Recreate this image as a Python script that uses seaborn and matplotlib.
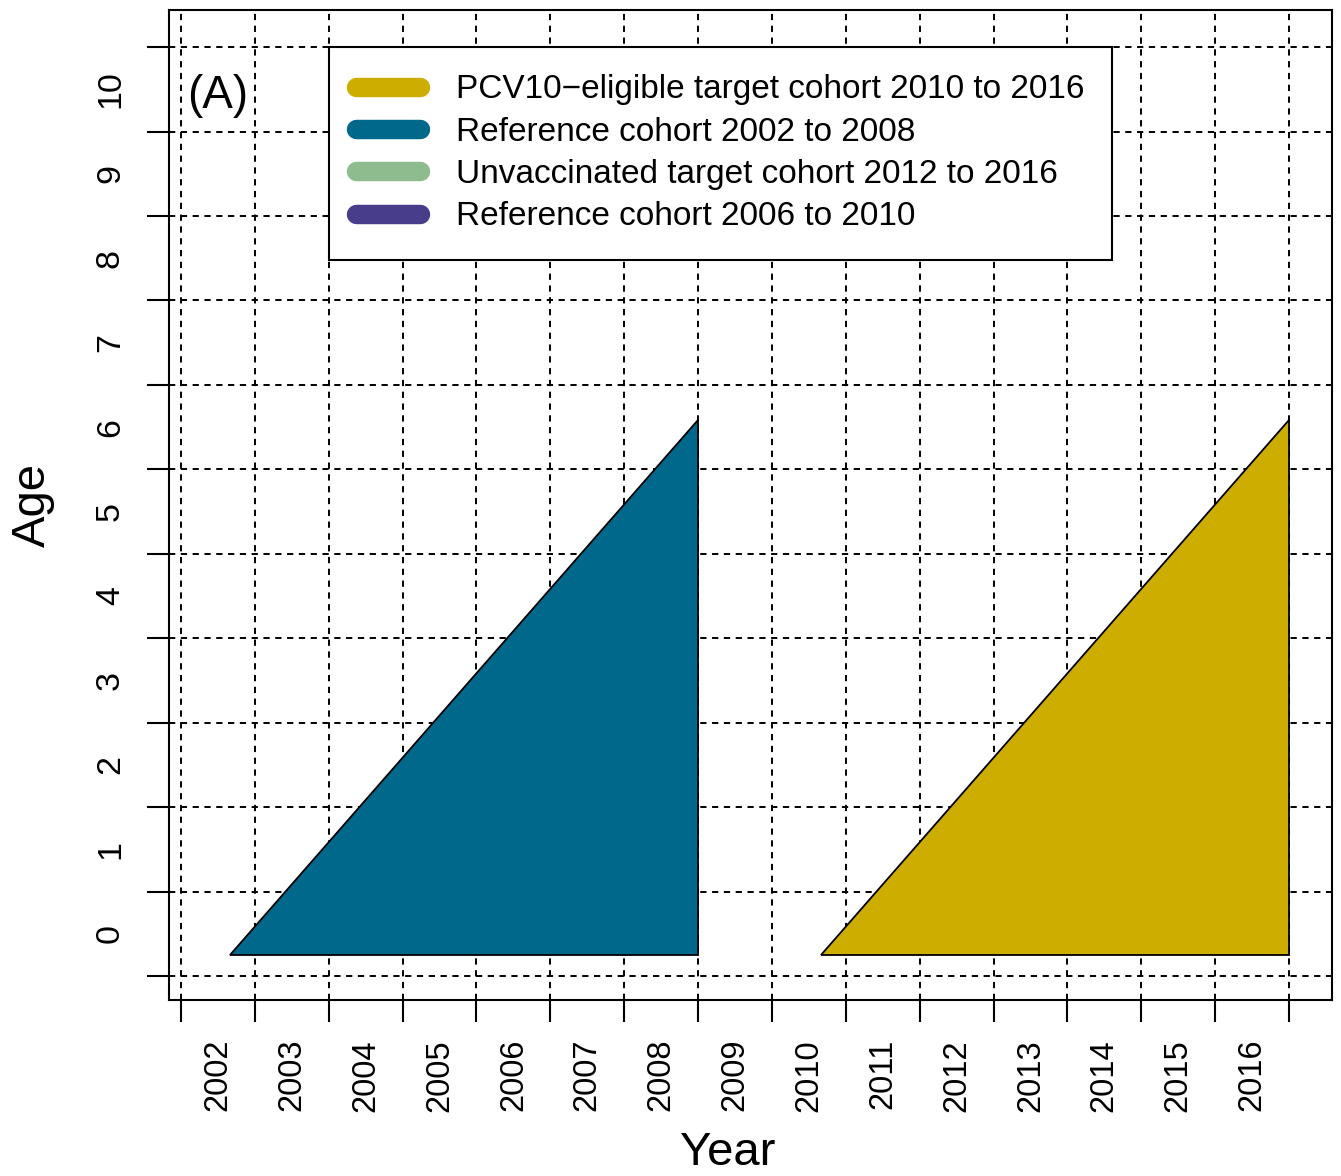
import matplotlib
matplotlib.use("Agg")
import matplotlib.pyplot as plt
import seaborn as sns
import numpy as np
import pandas as pd
from matplotlib.lines import Line2D

# ---- data ----
years = list(range(2002, 2017))
year_labels = [str(y) for y in years]
ages = list(range(0, 11))
age_labels = [str(a) for a in ages]

ref_x = [2002.67, 2009.0, 2009.0]
ref_y = [0.25, 0.25, 6.58]
pcv_x = [2010.67, 2017.0, 2017.0]
pcv_y = [0.25, 0.25, 6.58]

legend_labels = [
    "PCV10\u2212eligible target cohort 2010 to 2016",
    "Reference cohort 2002 to 2008",
    "Unvaccinated target cohort 2012 to 2016",
    "Reference cohort 2006 to 2010",
]
legend_colors = ["#CDAD00", "#00688B", "#8FBC8F", "#483D8B"]

sns.set_style("white")
plt.rcParams["font.family"] = ["Liberation Sans", "DejaVu Sans"]
plt.rcParams["lines.scale_dashes"] = False
plt.rcParams["text.color"] = "black"
plt.rcParams["axes.labelcolor"] = "black"
plt.rcParams["xtick.color"] = "black"
plt.rcParams["ytick.color"] = "black"

fig = plt.figure(figsize=(13.41, 11.76), dpi=100)
ax = fig.add_axes([169/1341, 176/1176, 1163/1341, 990/1176])

ax.set_xlim(2001.838, 2017.582)
ax.set_ylim(-0.284, 11.439)

# grid
dash = (0, (4.5, 4.0))
for x in range(2002, 2018):
    ax.axvline(x, color="black", lw=1.4, ls=dash, zorder=1)
for y in range(0, 12):
    ax.axhline(y, color="black", lw=1.4, ls=dash, zorder=1)

ax.fill(ref_x, ref_y, facecolor=legend_colors[1], edgecolor="black", lw=1.3, zorder=3)
ax.fill(pcv_x, pcv_y, facecolor=legend_colors[0], edgecolor="black", lw=1.3, zorder=3)

# ticks: major at boundaries (unlabelled), minor at centres (labelled)
ax.set_xticks(range(2002, 2018))
ax.set_xticklabels([])
ax.set_xticks([y + 0.5 for y in years], minor=True)
ax.set_xticklabels(year_labels, minor=True, rotation=90, fontsize=23.5)
ax.set_yticks(range(0, 12))
ax.set_yticklabels([])
ax.set_yticks([a + 0.5 for a in ages], minor=True)
ax.set_yticklabels(age_labels, minor=True, rotation=90, fontsize=24.5, va="center")

ax.tick_params(axis="both", which="major", direction="out", length=16, width=1.5, color="black",
               bottom=True, left=True)
ax.tick_params(axis="x", which="minor", length=0, pad=28)
ax.tick_params(axis="y", which="minor", length=0, pad=31)

for s in ax.spines.values():
    s.set_color("black")
    s.set_linewidth(1.5)

ax.set_xlabel("Year", fontsize=34)
ax.xaxis.set_label_coords((728-169)/1163, -(1131-1000)/990)
ax.set_ylabel("Age", fontsize=34)
ax.yaxis.set_label_coords(-(169-55)/1163, 0.5)

ax.text(2002.09, 10.42, "(A)", fontsize=33, va="center", ha="left", zorder=5)

handles = [Line2D([0], [0], color=c, lw=14, solid_capstyle="round") for c in legend_colors]
leg = ax.legend(handles, legend_labels, loc="upper left", bbox_to_anchor=((329-169)/1163, (1000-47)/990),
                borderaxespad=0, frameon=True, fancybox=False, framealpha=1, edgecolor="black",
                prop={"family": "Liberation Sans", "size": 24}, handlelength=1.9, handletextpad=1.1,
                labelspacing=0.34, borderpad=0.82)
leg.get_frame().set_linewidth(1.5)
leg.set_zorder(6)
for t in leg.get_texts():
    t.set_color("black")

fig.savefig("out.png", dpi=100)
